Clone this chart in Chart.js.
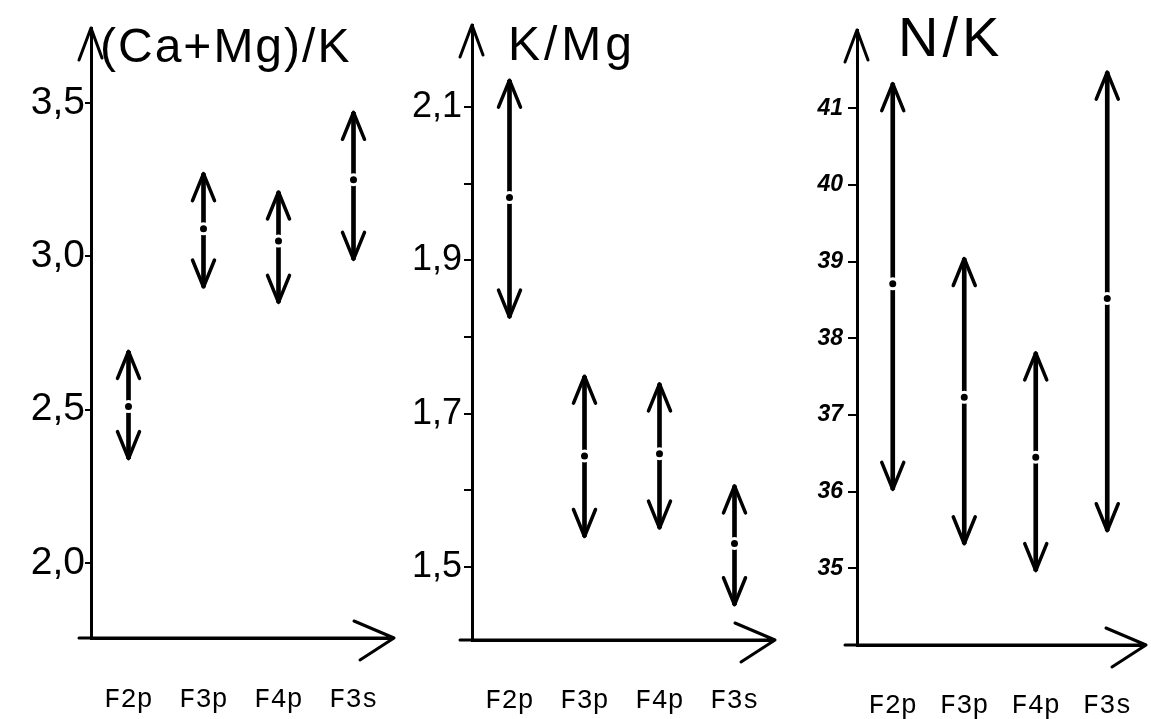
<!DOCTYPE html>
<html><head><meta charset="utf-8">
<script src="https://cdn.jsdelivr.net/npm/chart.js@4"></script>
<style>
html,body{margin:0;padding:0;background:#fff;width:1151px;height:719px;overflow:hidden}
canvas{position:absolute;top:0}
</style></head><body>
<canvas id="c1" width="400" height="719" style="left:0px"></canvas>
<canvas id="c2" width="395" height="719" style="left:390px"></canvas>
<canvas id="c3" width="371" height="719" style="left:780px"></canvas>
<script>
// ---- data ----
const categories = ['F2p', 'F3p', 'F4p', 'F3s'];

// (Ca+Mg)/K
const caMgK_low  = [2.34, 2.90, 2.85, 2.99];
const caMgK_mid  = [2.51, 3.09, 3.05, 3.25];
const caMgK_high = [2.69, 3.27, 3.21, 3.47];
const caMgK_ticks = [2.0, 2.5, 3.0, 3.5];
const caMgK_tickLabels = ['2,0', '2,5', '3,0', '3,5'];

// K/Mg
const kMg_low  = [1.826, 1.540, 1.551, 1.451];
const kMg_mid  = [1.982, 1.645, 1.648, 1.531];
const kMg_high = [2.135, 1.749, 1.739, 1.606];
const kMg_ticks = [1.5, 1.6, 1.7, 1.8, 1.9, 2.0, 2.1];
const kMg_tickLabels = ['1,5', '', '1,7', '', '1,9', '', '2,1'];

// N/K
const nK_low  = [36.03, 35.32, 34.97, 35.49];
const nK_mid  = [38.71, 37.23, 36.45, 38.52];
const nK_high = [41.32, 39.04, 37.81, 41.47];
const nK_ticks = [35, 36, 37, 38, 39, 40, 41];
const nK_tickLabels = ['35', '36', '37', '38', '39', '40', '41'];

// ---- plugins ----
const decorPlugin = {
  id: 'decor',
  afterDatasetsDraw(chart, args, o) {
    const ctx = chart.ctx, xs = chart.scales.x, ys = chart.scales.y;
    const bars = chart.data.datasets[1].data;
    ctx.save();
    ctx.strokeStyle = '#000';
    ctx.lineWidth = 3.5;
    ctx.lineCap = 'round';
    ctx.lineJoin = 'round';
    bars.forEach((r, i) => {
      const x = xs.getPixelForValue(i);
      const yt = ys.getPixelForValue(r[1]);
      const yb = ys.getPixelForValue(r[0]);
      ctx.beginPath();
      ctx.moveTo(x - 11, yt + 27); ctx.lineTo(x, yt); ctx.lineTo(x + 11, yt + 27);
      ctx.moveTo(x - 11, yb - 27); ctx.lineTo(x, yb); ctx.lineTo(x + 11, yb - 27);
      ctx.stroke();
    });
    ctx.restore();
  },
  afterDraw(chart, args, o) {
    const ctx = chart.ctx, a = chart.chartArea;
    ctx.save();
    ctx.strokeStyle = '#000';
    ctx.lineWidth = 3;
    ctx.lineCap = 'round';
    ctx.lineJoin = 'round';
    // y axis arrowhead
    ctx.beginPath();
    ctx.moveTo(a.left - 12, a.top + 32); ctx.lineTo(a.left, a.top); ctx.lineTo(a.left + 11, a.top + 30);
    ctx.stroke();
    // x axis extension + arrowhead
    const tip = a.right + 3;
    ctx.beginPath();
    ctx.moveTo(a.left - 12, a.bottom); ctx.lineTo(tip, a.bottom);
    ctx.moveTo(tip - 40, a.bottom - 17); ctx.lineTo(tip, a.bottom); ctx.lineTo(tip - 34, a.bottom + 22);
    ctx.stroke();
    // title
    ctx.fillStyle = '#000';
    ctx.font = o.font;
    ctx.letterSpacing = o.spacing || '0px';
    ctx.textBaseline = 'alphabetic';
    ctx.textAlign = 'left';
    ctx.fillText(o.text, a.left + o.dx, o.baseline);
    ctx.restore();
  }
};

function makeChart(id, o) {
  return new Chart(document.getElementById(id), {
    data: {
      labels: categories,
      datasets: [
        { type: 'line', data: o.mid, showLine: false, pointRadius: 5, pointHoverRadius: 5,
          pointBackgroundColor: '#000', pointBorderColor: '#fff', pointBorderWidth: 3, order: 0 },
        { type: 'bar', data: o.low.map((l, i) => [l, o.high[i]]), backgroundColor: '#000',
          borderWidth: 0, barThickness: 4, order: 1 }
      ]
    },
    options: {
      responsive: false,
      animation: false,
      events: [],
      layout: { padding: o.padding },
      plugins: {
        legend: { display: false },
        tooltip: { enabled: false },
        title: { display: false },
        decor: o.title
      },
      scales: {
        x: {
          type: 'category', offset: true,
          grid: { display: true, drawOnChartArea: false, drawTicks: true, tickLength: o.xGap, color: 'rgba(0,0,0,0)' },
          border: { display: true, color: '#000', width: 3 },
          ticks: { color: '#000', font: { family: "'Liberation Mono', 'Courier New', monospace", size: 27 }, padding: 0, maxRotation: 0, autoSkip: false },
          afterFit: s => { s.height = 75; }
        },
        y: {
          type: 'linear', min: o.min, max: o.max,
          afterBuildTicks: s => { s.ticks = o.ticks.map(v => ({ value: v })); },
          grid: { display: true, drawOnChartArea: false, drawTicks: true, tickLength: o.tickLen, color: '#000', lineWidth: 2 },
          border: { display: true, color: '#000', width: 3 },
          ticks: { color: '#000', font: o.tickFont, padding: o.tickPad,
                   callback: (v, i) => o.tickLabels[i] },
          afterFit: s => { s.width = o.yWidth; }
        }
      }
    },
    plugins: [decorPlugin]
  });
}

makeChart('c1', {
  low: caMgK_low, mid: caMgK_mid, high: caMgK_high,
  ticks: caMgK_ticks, tickLabels: caMgK_tickLabels,
  min: 1.755, max: 3.745,
  padding: { left: 0, right: 9, top: 28, bottom: 6 },
  yWidth: 91, tickLen: 6, tickPad: 0,
  tickFont: { family: "'Liberation Sans'", size: 39 },
  xGap: 46,
  title: { text: '(Ca+Mg)/K', font: '48px "Liberation Sans"', spacing: '2px', dx: 9, baseline: 62 }
});

makeChart('c2', {
  low: kMg_low, mid: kMg_mid, high: kMg_high,
  ticks: kMg_ticks, tickLabels: kMg_tickLabels,
  min: 1.405, max: 2.207,
  padding: { left: 0, right: 13, top: 25, bottom: 4 },
  yWidth: 82, tickLen: 8, tickPad: 2,
  tickFont: { family: "'Liberation Sans'", size: 36 },
  xGap: 45,
  title: { text: 'K/Mg', font: '48px "Liberation Sans"', spacing: '4px', dx: 36, baseline: 60 }
});

makeChart('c3', {
  low: nK_low, mid: nK_mid, high: nK_high,
  ticks: nK_ticks, tickLabels: nK_tickLabels,
  min: 34.0, max: 42.02,
  padding: { left: 0, right: 3, top: 30, bottom: -1 },
  yWidth: 77, tickLen: 9, tickPad: 5,
  tickFont: { family: "'Liberation Sans'", size: 23, weight: 'bold', style: 'italic' },
  xGap: 45,
  title: { text: 'N/K', font: '56px "Liberation Sans"', spacing: '4px', dx: 41, baseline: 56 }
});
</script>
</body></html>
